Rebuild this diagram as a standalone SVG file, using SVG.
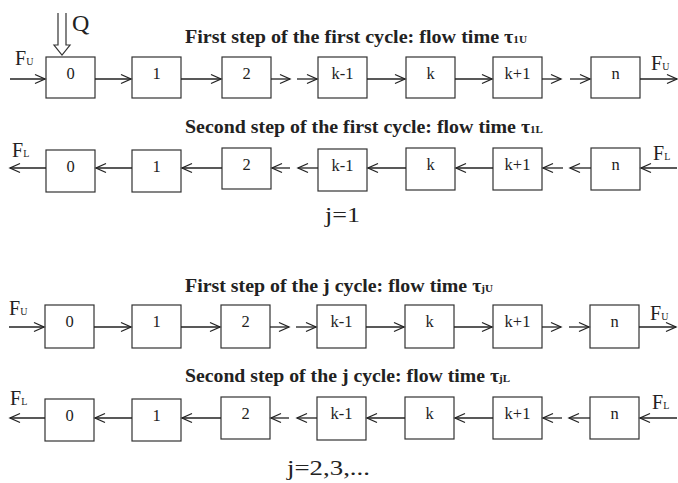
<svg xmlns="http://www.w3.org/2000/svg" width="678" height="483" viewBox="0 0 678 483">
<style>
.box rect{fill:#fff;stroke:#333;stroke-width:1.2}
.box text{font-family:"Liberation Serif",serif;font-size:16.5px;fill:#222;text-anchor:middle}
.title{font-family:"Liberation Serif",serif;font-size:18px;font-weight:bold;fill:#222}
.sub{font-size:10px}
.lab{font-family:"Liberation Serif",serif;font-size:20px;fill:#222}
.lsub{font-size:10px}
.big{font-family:"Liberation Serif",serif;font-size:22px;fill:#222}
#connectors line{stroke:#222;stroke-width:1.3;marker-end:url(#ah)}
</style>
<defs>
<marker id="ah" markerUnits="userSpaceOnUse" markerWidth="12" markerHeight="12" refX="10" refY="5" orient="auto" overflow="visible">
<path d="M0,0.5 L10,5 L0,9.5" fill="none" stroke="#222" stroke-width="1.3"/>
</marker>
</defs>
<rect width="678" height="483" fill="#fff"/>

<!-- titles and labels -->
<text class="title" x="185" y="43" textLength="342" lengthAdjust="spacingAndGlyphs">First step of the first cycle: flow time τ<tspan class="sub">1U</tspan></text>
<text class="title" x="185" y="133" textLength="358" lengthAdjust="spacingAndGlyphs">Second step of the first cycle: flow time τ<tspan class="sub">1L</tspan></text>
<text class="title" x="185" y="292" textLength="308" lengthAdjust="spacingAndGlyphs">First step of the j cycle: flow time τ<tspan class="sub">jU</tspan></text>
<text class="title" x="185" y="382" textLength="325" lengthAdjust="spacingAndGlyphs">Second step of the j cycle: flow time τ<tspan class="sub">jL</tspan></text>
<text class="big" x="325" y="222" textLength="35" lengthAdjust="spacingAndGlyphs">j=1</text>
<text class="big" x="287" y="475" textLength="83" lengthAdjust="spacingAndGlyphs">j=2,3,...</text>

<g id="q-input">
<path d="M58,13 V45 H54 L62,55 L70,45 H66 V13" fill="#fff" stroke="#333" stroke-width="1.2"/>
<text class="lab" x="72" y="31" style="font-size:24px">Q</text>
</g>

<text class="lab" x="15" y="65">F<tspan class="lsub">U</tspan></text>
<text class="lab" x="651" y="70">F<tspan class="lsub">U</tspan></text>
<text class="lab" x="12" y="157">F<tspan class="lsub">L</tspan></text>
<text class="lab" x="653" y="160">F<tspan class="lsub">L</tspan></text>
<text class="lab" x="9" y="315">F<tspan class="lsub">U</tspan></text>
<text class="lab" x="650" y="320">F<tspan class="lsub">U</tspan></text>
<text class="lab" x="10" y="405">F<tspan class="lsub">L</tspan></text>
<text class="lab" x="652" y="409">F<tspan class="lsub">L</tspan></text>

<!-- row 1 -->
<g id="r1-0" class="box"><rect x="46" y="57" width="49" height="41"/><text x="70.5" y="79">0</text></g>
<g id="r1-1" class="box"><rect x="132" y="57" width="49" height="41"/><text x="156.5" y="79">1</text></g>
<g id="r1-2" class="box"><rect x="222" y="57" width="49" height="41"/><text x="246.5" y="79">2</text></g>
<g id="r1-k-1" class="box"><rect x="318" y="57" width="49" height="41"/><text x="342.5" y="79">k-1</text></g>
<g id="r1-k" class="box"><rect x="406" y="57" width="49" height="41"/><text x="430.5" y="79">k</text></g>
<g id="r1-k+1" class="box"><rect x="493" y="57" width="49" height="41"/><text x="517.5" y="79">k+1</text></g>
<g id="r1-n" class="box"><rect x="591" y="57" width="49" height="41"/><text x="615.5" y="79">n</text></g>

<!-- row 2 -->
<g id="r2-0" class="box"><rect x="46" y="150" width="49" height="42"/><text x="70.5" y="172">0</text></g>
<g id="r2-1" class="box"><rect x="132" y="150" width="49" height="42"/><text x="156.5" y="172">1</text></g>
<g id="r2-2" class="box"><rect x="222" y="148" width="49" height="41"/><text x="246.5" y="170">2</text></g>
<g id="r2-k-1" class="box"><rect x="318" y="149" width="49" height="42"/><text x="342.5" y="171">k-1</text></g>
<g id="r2-k" class="box"><rect x="406" y="148" width="49" height="42"/><text x="430.5" y="170">k</text></g>
<g id="r2-k+1" class="box"><rect x="493" y="148" width="49" height="42"/><text x="517.5" y="170">k+1</text></g>
<g id="r2-n" class="box"><rect x="591" y="148" width="49" height="42"/><text x="615.5" y="170">n</text></g>

<!-- row 3 -->
<g id="r3-0" class="box"><rect x="45" y="305" width="49" height="43"/><text x="69.5" y="327">0</text></g>
<g id="r3-1" class="box"><rect x="132" y="305" width="49" height="43"/><text x="156.5" y="327">1</text></g>
<g id="r3-2" class="box"><rect x="221" y="305" width="49" height="43"/><text x="245.5" y="327">2</text></g>
<g id="r3-k-1" class="box"><rect x="317" y="305" width="49" height="43"/><text x="341.5" y="327">k-1</text></g>
<g id="r3-k" class="box"><rect x="405" y="305" width="49" height="43"/><text x="429.5" y="327">k</text></g>
<g id="r3-k+1" class="box"><rect x="493" y="305" width="49" height="43"/><text x="517.5" y="327">k+1</text></g>
<g id="r3-n" class="box"><rect x="590" y="305" width="49" height="43"/><text x="614.5" y="327">n</text></g>

<!-- row 4 -->
<g id="r4-0" class="box"><rect x="45" y="399" width="49" height="42"/><text x="69.5" y="421">0</text></g>
<g id="r4-1" class="box"><rect x="132" y="399" width="49" height="42"/><text x="156.5" y="421">1</text></g>
<g id="r4-2" class="box"><rect x="221" y="397" width="49" height="42"/><text x="245.5" y="419">2</text></g>
<g id="r4-k-1" class="box"><rect x="317" y="397" width="49" height="43"/><text x="341.5" y="419">k-1</text></g>
<g id="r4-k" class="box"><rect x="405" y="397" width="49" height="42"/><text x="429.5" y="419">k</text></g>
<g id="r4-k+1" class="box"><rect x="493" y="397" width="49" height="42"/><text x="517.5" y="419">k+1</text></g>
<g id="r4-n" class="box"><rect x="590" y="397" width="49" height="42"/><text x="614.5" y="419">n</text></g>

<g id="connectors">
<!-- row 1 -->
<line x1="10" y1="79" x2="45" y2="79"/>
<line x1="95" y1="79" x2="131" y2="79"/>
<line x1="181" y1="79" x2="221" y2="79"/>
<line x1="271" y1="79" x2="290" y2="79"/>
<line x1="297" y1="79" x2="317" y2="79"/>
<line x1="367" y1="79" x2="405" y2="79"/>
<line x1="455" y1="79" x2="492" y2="79"/>
<line x1="542" y1="79" x2="561" y2="79"/>
<line x1="570" y1="79" x2="590" y2="79"/>
<line x1="640" y1="79" x2="677" y2="79"/>
<!-- row 2 -->
<line x1="46" y1="168" x2="10" y2="168"/>
<line x1="132" y1="168" x2="96" y2="168"/>
<line x1="222" y1="168" x2="182" y2="168"/>
<line x1="290" y1="168" x2="272" y2="168"/>
<line x1="318" y1="168" x2="298" y2="168"/>
<line x1="406" y1="168" x2="368" y2="168"/>
<line x1="493" y1="168" x2="456" y2="168"/>
<line x1="563" y1="168" x2="543" y2="168"/>
<line x1="591" y1="168" x2="570" y2="168"/>
<line x1="677" y1="168" x2="641" y2="168"/>
<!-- row 3 -->
<line x1="9" y1="327" x2="44" y2="327"/>
<line x1="94" y1="327" x2="131" y2="327"/>
<line x1="181" y1="327" x2="220" y2="327"/>
<line x1="270" y1="327" x2="289" y2="327"/>
<line x1="296" y1="327" x2="316" y2="327"/>
<line x1="366" y1="327" x2="404" y2="327"/>
<line x1="454" y1="327" x2="492" y2="327"/>
<line x1="542" y1="327" x2="561" y2="327"/>
<line x1="569" y1="327" x2="589" y2="327"/>
<line x1="639" y1="327" x2="676" y2="327"/>
<!-- row 4 -->
<line x1="45" y1="418" x2="10" y2="418"/>
<line x1="132" y1="418" x2="95" y2="418"/>
<line x1="221" y1="418" x2="182" y2="418"/>
<line x1="289" y1="418" x2="271" y2="418"/>
<line x1="317" y1="418" x2="297" y2="418"/>
<line x1="405" y1="418" x2="367" y2="418"/>
<line x1="493" y1="418" x2="455" y2="418"/>
<line x1="562" y1="418" x2="543" y2="418"/>
<line x1="590" y1="418" x2="569" y2="418"/>
<line x1="677" y1="418" x2="640" y2="418"/>
</g>
</svg>
